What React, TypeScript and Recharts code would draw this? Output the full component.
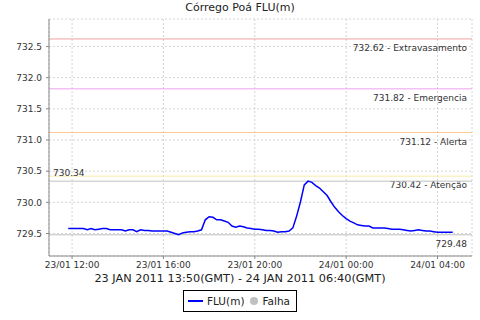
import React from 'react'
import {
  LineChart,
  Line,
  XAxis,
  YAxis,
  CartesianGrid,
  ReferenceLine,
} from 'recharts'

// 10 min readings, local time (hours since 23/01 00:00)
const START_HOUR = 11 + 50 / 60
const STEP_HOURS = 10 / 60

const fluValues = [
  729.58, 729.58, 729.58, 729.58, 729.58, 729.56, 729.58, 729.56, 729.57, 729.58,
  729.58, 729.56, 729.56, 729.56, 729.56, 729.54, 729.56, 729.56, 729.53, 729.56,
  729.55, 729.55, 729.54, 729.54, 729.54, 729.54, 729.54, 729.52, 729.5, 729.48,
  729.51, 729.52, 729.53, 729.53, 729.54, 729.56, 729.72, 729.77, 729.76, 729.72,
  729.72, 729.7, 729.68, 729.62, 729.6, 729.62, 729.61, 729.59, 729.58, 729.57,
  729.57, 729.56, 729.55, 729.55, 729.54, 729.52, 729.53, 729.53, 729.54, 729.59,
  729.78, 730.01, 730.28, 730.34, 730.32, 730.27, 730.23, 730.17, 730.11, 730.01,
  729.92, 729.85, 729.79, 729.74, 729.7, 729.67, 729.64, 729.63, 729.62, 729.62,
  729.59, 729.59, 729.59, 729.59, 729.58, 729.57, 729.57, 729.57, 729.56, 729.55,
  729.54, 729.55, 729.56, 729.55, 729.54, 729.54, 729.53, 729.52, 729.52, 729.52,
  729.52, 729.52,
]

const xTicks = [12, 16, 20, 24, 28]
const xTickLabels = ['23/01 12:00', '23/01 16:00', '23/01 20:00', '24/01 00:00', '24/01 04:00']
const yTicks = [729.5, 730.0, 730.5, 731.0, 731.5, 732.0, 732.5]

const limits = [
  { value: 732.62, text: '732.62 - Extravasamento', color: '#f0a0a0' },
  { value: 731.82, text: '731.82 - Emergencia', color: '#eea0ee' },
  { value: 731.12, text: '731.12 - Alerta', color: '#ffc890' },
  { value: 730.42, text: '730.42 - Atenção', color: '#f8eaa8' },
]
const MAX_VALUE = 730.34
const MIN_VALUE = 729.48

const data = fluValues.map((v, i) => ({ t: START_HOUR + i * STEP_HOURS, flu: v }))

const FONT = '"DejaVu Sans", sans-serif'

// texto das linhas de referência
function LineLabel({ viewBox, text, left, above }: any) {
  if (!viewBox) return null
  const x = left ? viewBox.x + 4 : viewBox.x + viewBox.width - 5
  const y = above ? viewBox.y - 5 : viewBox.y + 12
  return (
    <text x={x} y={y} textAnchor={left ? 'start' : 'end'} fontSize={9} fill="#333" fontFamily={FONT}>
      {text}
    </text>
  )
}

export default function App() {
  return (
    <div style={{ position: 'absolute', left: 0, top: 0, width: 480, height: 320, background: '#fff', fontFamily: FONT }}>
      <div style={{ position: 'absolute', left: 0, top: 1, width: 480, textAlign: 'center', fontSize: 11, color: '#222' }}>
        Córrego Poá FLU(m)
      </div>
      <LineChart width={480} height={320} data={data} margin={{ top: 19, right: 8, left: 0, bottom: 0 }}>
        <CartesianGrid stroke="#d4d4d4" strokeDasharray="2 2" />
        <XAxis
          dataKey="t"
          type="number"
          domain={[10.99, 29.51]}
          ticks={xTicks}
          tickFormatter={(v) => xTickLabels[xTicks.indexOf(v)] ?? ''}
          height={64}
          tickSize={3}
          tickMargin={3}
          stroke="#888"
          tick={{ fontSize: 9, fill: '#333', fontFamily: FONT }}
          allowDataOverflow
        />
        <XAxis xAxisId="top" orientation="top" dataKey="t" type="number" domain={[10.99, 29.51]} height={0} tick={false} tickLine={false} stroke="#c0c0c0" />
        <YAxis
          type="number"
          domain={[729.14, 732.94]}
          ticks={yTicks}
          tickFormatter={(v) => v.toFixed(1)}
          width={49}
          tickSize={3}
          tickMargin={4}
          stroke="#888"
          tick={{ fontSize: 9, fill: '#333', fontFamily: FONT }}
          allowDataOverflow
        />
        <YAxis yAxisId="right" orientation="right" width={0} tick={false} tickLine={false} stroke="#c0c0c0" />
        {limits.map((l) => (
          <ReferenceLine key={l.value} y={l.value} stroke={l.color} strokeWidth={1} label={<LineLabel text={l.text} />} />
        ))}
        <ReferenceLine y={MAX_VALUE} stroke="#c0c0c0" label={<LineLabel text={MAX_VALUE.toFixed(2)} left above />} />
        <ReferenceLine y={MIN_VALUE} stroke="#c0c0c0" label={<LineLabel text={MIN_VALUE.toFixed(2)} />} />
        <Line
          type="linear"
          dataKey="flu"
          name="FLU(m)"
          stroke="#0000ff"
          strokeWidth={1.5}
          dot={false}
          isAnimationActive={false}
        />
      </LineChart>
      <div style={{ position: 'absolute', left: 0, top: 272, width: 480, textAlign: 'center', fontSize: 11.3, color: '#222' }}>
        23 JAN 2011 13:50(GMT) - 24 JAN 2011 06:40(GMT)
      </div>
      <div
        style={{
          position: 'absolute', left: 183, top: 290, width: 112, height: 20, border: '1px solid #000',
          display: 'flex', alignItems: 'center', fontSize: 10.5, color: '#222',
        }}
      >
        <span style={{ display: 'inline-block', width: 15, height: 2, background: '#0000ff', marginLeft: 4, marginRight: 4 }} />
        <span>FLU(m)</span>
        <span style={{ display: 'inline-block', width: 8, height: 8, borderRadius: 4, background: '#c0c0c0', marginLeft: 6, marginRight: 4 }} />
        <span>Falha</span>
      </div>
    </div>
  )
}
